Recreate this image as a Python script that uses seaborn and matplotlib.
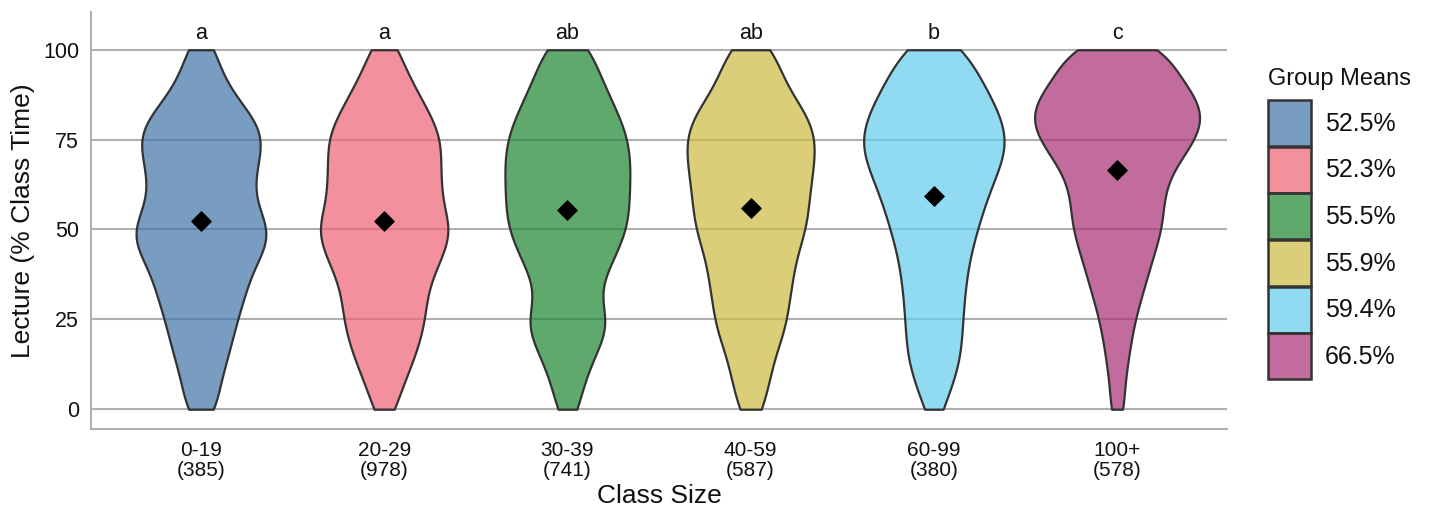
import numpy as np
import pandas as pd
import matplotlib
matplotlib.use("Agg")
import matplotlib.pyplot as plt
import seaborn as sns
from matplotlib.patches import Patch

# class-size groups, sample sizes and post-hoc letters
sizes = ["0-19", "20-29", "30-39", "40-59", "60-99", "100+"]
n_obs = [385, 978, 741, 587, 380, 578]
letters = ["a", "a", "ab", "ab", "b", "c"]
group_means = [52.5, 52.3, 55.5, 55.9, 59.4, 66.5]

# lecture share (% class time) levels and the number of classes at each level
levels = list(range(0, 101, 5))
counts_0_19 = [17, 17, 22, 27, 32, 36, 42, 47, 53, 66, 70, 58, 52, 54, 58, 63, 57, 40, 27, 18, 16]
counts_20_29 = [12, 16, 24, 31, 37, 41, 42, 45, 54, 62, 69, 60, 57, 57, 56, 58, 50, 40, 30, 20, 16]
counts_30_39 = [12, 13, 20, 26, 37, 41, 31, 32, 42, 50, 58, 60, 60, 61, 61, 59, 53, 44, 37, 27, 27]
counts_40_59 = [14, 15, 21, 23, 32, 36, 38, 41, 43, 48, 55, 57, 58, 61, 63, 65, 60, 48, 35, 28, 25]
counts_60_99 = [10, 15, 22, 26, 27, 28, 29, 31, 33, 37, 42, 47, 53, 60, 68, 71, 67, 58, 50, 38, 34]
counts_100p = [8, 6, 9, 11, 14, 17, 22, 27, 32, 37, 43, 44, 45, 50, 62, 75, 83, 80, 67, 53, 52]
all_counts = [counts_0_19, counts_20_29, counts_30_39, counts_40_59, counts_60_99, counts_100p]

colors = ["#4477AA", "#EE6677", "#228833", "#CCBB44", "#66CCEE", "#AA3377"]
fill_alpha = 0.72

frames = []
for s, c in zip(sizes, all_counts):
    frames.append(pd.DataFrame({"size": s, "lecture": np.repeat(levels, c)}))
df = pd.concat(frames, ignore_index=True)

sns.set_style("white")
plt.rcParams["font.family"] = ["Liberation Sans", "DejaVu Sans"]

fig = plt.figure(figsize=(14.29, 5.12), dpi=100)
ax = fig.add_axes([91 / 1429, 1 - 429 / 512, (1227 - 91) / 1429, (429 - 12) / 512])

sns.violinplot(data=df, x="size", y="lecture", hue="size", order=sizes, hue_order=sizes,
               palette=colors, legend=False, cut=0, inner=None, density_norm="area",
               common_norm=True, width=0.9, bw_method=0.2, saturation=1,
               linecolor="#333333", linewidth=1.6, ax=ax)

# translucent fills, opaque outlines
for coll in ax.collections:
    fc = coll.get_facecolor()
    fc[:, 3] = fill_alpha
    coll.set_facecolor(fc)
    coll.set_zorder(2)

ax.scatter(range(len(sizes)), group_means, marker="D", s=95, color="black", zorder=5)

for i, l in enumerate(letters):
    ax.text(i, 104.6, l, ha="center", va="center", fontsize=15.5, color="#111111")

ax.set_xlim(-0.6, 5.6)
ax.set_ylim(-5.5, 110.5)
ax.set_yticks([0, 25, 50, 75, 100])
ax.set_xticks(range(len(sizes)))
ax.set_xticklabels([f"{s}\n({n})" for s, n in zip(sizes, n_obs)], fontsize=15, linespacing=1.1)
ax.tick_params(axis="y", labelsize=15.5)
ax.tick_params(colors="#b0b0b0", labelcolor="#111111", length=5, width=1.5)

ax.yaxis.grid(True, color="#b0b0b0", linewidth=1.5)
ax.set_axisbelow(True)
for side in ["top", "right"]:
    ax.spines[side].set_visible(False)
for side in ["left", "bottom"]:
    ax.spines[side].set_color("#b0b0b0")
    ax.spines[side].set_linewidth(1.5)

ax.set_xlabel("Class Size", fontsize=19, labelpad=3, color="#111111")
ax.set_ylabel("Lecture (% Class Time)", fontsize=19, labelpad=6, color="#111111")

# legend: title as its own text so the gap to the keys matches
fig.text(1268 / 1429, 1 - 85 / 512, "Group Means", fontsize=17, color="#111111",
         ha="left", va="baseline")
handles = [Patch(facecolor=matplotlib.colors.to_rgba(c, fill_alpha), edgecolor="#333333",
                 linewidth=1.8) for c in colors]
leg = fig.legend(handles, [f"{m}%" for m in group_means],
                 loc="upper left", bbox_to_anchor=(1268 / 1429, 1 - 100 / 512), frameon=False,
                 fontsize=18, handlelength=1.72, handleheight=2.45,
                 labelspacing=0.03, handletextpad=0.55, borderaxespad=0, borderpad=0)
for t in leg.get_texts():
    t.set_color("#111111")

fig.savefig("out.png", dpi=100)
